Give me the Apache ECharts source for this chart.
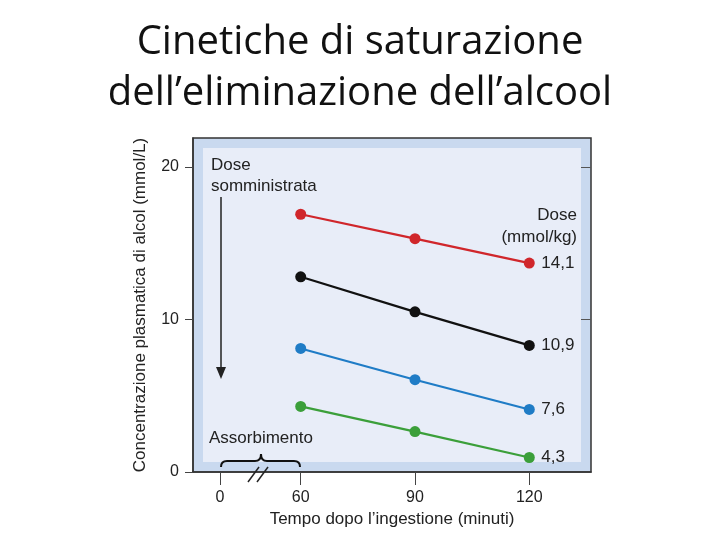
<!DOCTYPE html>
<html>
<head>
<meta charset="utf-8">
<script src="https://cdn.jsdelivr.net/npm/echarts@6/dist/echarts.min.js"></script>
<style>
  html, body { margin: 0; padding: 0; background: #fff; }
  #chart { width: 720px; height: 540px; }
</style>
</head>
<body>
<div id="chart"></div>
<script>
// tempo dopo l'ingestione (minuti)
const times = [60, 90, 120]
// dose somministrata (mmol/kg), una serie per dose
const doses = ['14,1', '10,9', '7,6', '4,3']
const dose141 = [16.9, 15.3, 13.7]
const dose109 = [12.8, 10.5, 8.3]
const dose76 = [8.1, 6.05, 4.1]
const dose43 = [4.3, 2.65, 0.95]
const seriesValues = [dose141, dose109, dose76, dose43]
const seriesColors = ['#d0262b', '#111111', '#1f7cc6', '#3b9f3a']
// asse x spezzato: lo "0" è disegnato a questa posizione
const xTicks = [38.8, 60, 90, 120]
const xTickLabels = ['0', '60', '90', '120']
const yTicks = [0, 10, 20]

const font = '"Liberation Sans", Arial, sans-serif'
const ink = { stroke: '#111', lineWidth: 2, fill: null }
const chart = echarts.init(document.getElementById('chart'))

chart.setOption({
  backgroundColor: '#fff',
  animation: false,
  title: {
    text: 'Cinetiche di saturazione\ndell\u2019eliminazione dell\u2019alcool',
    left: 'center',
    top: 12,
    textStyle: {
      fontFamily: '"Open Sans", sans-serif',
      fontWeight: 500,
      fontSize: 40,
      lineHeight: 51,
      color: '#111'
    }
  },
  grid: {
    left: 193, right: 129, top: 138, bottom: 68,
    show: true,
    backgroundColor: '#c9d9ef',
    borderColor: '#333',
    borderWidth: 1.5
  },
  xAxis: [{
    type: 'value',
    min: 31.73,
    max: 136.2,
    name: 'Tempo dopo l\u2019ingestione (minuti)',
    nameLocation: 'middle',
    nameGap: 39,
    nameTextStyle: { fontFamily: font, fontSize: 17, color: '#222' },
    splitLine: { show: false },
    axisLine: { lineStyle: { color: '#333', width: 1.5 } },
    axisTick: { customValues: xTicks, length: 13, lineStyle: { color: '#444' } },
    axisLabel: {
      customValues: xTicks,
      margin: 18,
      fontFamily: font, fontSize: 16, color: '#222',
      formatter: (v) => xTickLabels[xTicks.indexOf(v)] ?? ''
    }
  }],
  yAxis: [{
    type: 'value',
    min: 0,
    max: 21.9,
    name: 'Concentrazione plasmatica di alcol (mmol/L)',
    nameLocation: 'middle',
    nameGap: 44,
    nameTextStyle: { fontFamily: font, fontSize: 17, color: '#222' },
    splitLine: { show: false },
    axisLine: { show: true, lineStyle: { color: '#333', width: 1.5 } },
    axisTick: { customValues: yTicks, length: 8, lineStyle: { color: '#444' } },
    axisLabel: {
      customValues: yTicks,
      margin: 14,
      fontFamily: font, fontSize: 16, color: '#222'
    }
  }, {
    type: 'value',
    position: 'right',
    min: 0,
    max: 21.9,
    splitLine: { show: false },
    axisLine: { show: false },
    axisTick: { inside: true, customValues: [10, 20], length: 12, lineStyle: { color: '#555' } },
    axisLabel: { show: false }
  }],
  graphic: [
    { type: 'rect', z: 1, shape: { x: 203, y: 148, width: 378, height: 314 }, style: { fill: '#e8edf8' }, silent: true },
    { type: 'text', z: 10, x: 211, y: 155, style: { text: 'Dose\nsomministrata', font: '17px ' + font, fill: '#222', lineHeight: 21 } },
    { type: 'line', z: 10, shape: { x1: 221, y1: 197, x2: 221, y2: 368 }, style: { stroke: '#222', lineWidth: 1.5 } },
    { type: 'polygon', z: 10, shape: { points: [[216, 367], [226, 367], [221, 379]] }, style: { fill: '#222' } },
    { type: 'text', z: 10, x: 577, y: 204, style: { text: 'Dose\n(mmol/kg)', font: '17px ' + font, fill: '#222', lineHeight: 22, align: 'right' } },
    { type: 'text', z: 10, x: 209, y: 430, style: { text: 'Assorbimento', font: '17px ' + font, fill: '#222' } },
    // parentesi graffa sotto "Assorbimento"
    { type: 'bezierCurve', z: 10, shape: { x1: 221, y1: 467, cpx1: 221, cpy1: 461, x2: 227, y2: 461 }, style: ink },
    { type: 'line', z: 10, shape: { x1: 227, y1: 461, x2: 255, y2: 461 }, style: ink },
    { type: 'bezierCurve', z: 10, shape: { x1: 255, y1: 461, cpx1: 261, cpy1: 461, x2: 261, y2: 454 }, style: ink },
    { type: 'bezierCurve', z: 10, shape: { x1: 261, y1: 454, cpx1: 261, cpy1: 461, x2: 267, y2: 461 }, style: ink },
    { type: 'line', z: 10, shape: { x1: 267, y1: 461, x2: 294, y2: 461 }, style: ink },
    { type: 'bezierCurve', z: 10, shape: { x1: 294, y1: 461, cpx1: 300, cpy1: 461, x2: 300, y2: 467 }, style: ink },
    // segno di interruzione dell'asse
    { type: 'line', z: 10, shape: { x1: 248, y1: 482, x2: 259, y2: 467 }, style: { stroke: '#222', lineWidth: 1.5 } },
    { type: 'line', z: 10, shape: { x1: 257, y1: 482, x2: 268, y2: 467 }, style: { stroke: '#222', lineWidth: 1.5 } }
  ],
  series: doses.map((dose, i) => ({
    name: dose,
    type: 'line',
    z: 5,
    data: times.map((t, j) => [t, seriesValues[i][j]]),
    symbol: 'circle',
    symbolSize: 11,
    lineStyle: { color: seriesColors[i], width: 2.2 },
    itemStyle: { color: seriesColors[i] },
    endLabel: {
      show: true,
      distance: 12,
      formatter: '{a}',
      fontFamily: font,
      fontSize: 17,
      color: '#222'
    }
  }))
})
</script>
</body>
</html>
